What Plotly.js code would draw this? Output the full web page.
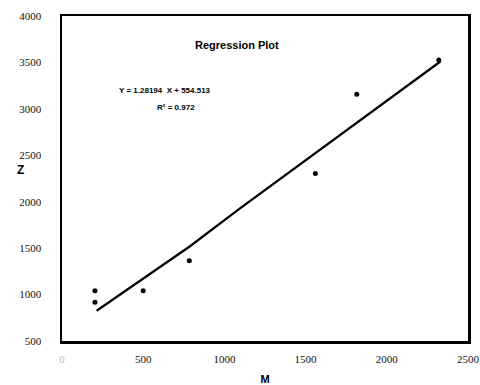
<!DOCTYPE html>
<html><head><meta charset="utf-8">
<script src="https://cdn.plot.ly/plotly-3.0.1.min.js"></script>
<style>html,body{margin:0;padding:0;background:#fff}#plot{width:480px;height:385px}</style>
</head><body><div id="plot"></div>
<script>
const pointsM = [203, 203, 500, 784, 1560, 1815, 2320];
const pointsZ = [1041, 916, 1040, 1364, 2305, 3156, 3525];
const fitM = [213, 784, 1096, 2330];
const fitZ = [826, 1515, 1928, 3510];
const xTickVals = [0, 500, 1000, 1500, 2000, 2500];
const xTickText = ['<span style="color:#bbb">0</span>', '500', '1000', '1500', '2000', '2500'];
const yTickVals = [500, 1000, 1500, 2000, 2500, 3000, 3500, 4000];
const equationText = '<b>Y = 1.28194  X + 554.513</b>';
const r2Text = '<b>R² = 0.972</b>';

const data = [
  {x: fitM, y: fitZ, mode: 'lines', type: 'scatter', line: {color: '#000', width: 2.2}, hoverinfo: 'skip'},
  {x: pointsM, y: pointsZ, mode: 'markers', type: 'scatter', marker: {color: '#000', size: 5}}
];
const layout = {
  width: 480, height: 385,
  margin: {l: 62, r: 12, t: 16, b: 44},
  paper_bgcolor: '#fff', plot_bgcolor: '#fff',
  showlegend: false,
  font: {family: 'Liberation Serif', size: 11, color: '#111'},
  xaxis: {range: [0, 2500], tickvals: xTickVals, ticktext: xTickText, showgrid: false, zeroline: false,
    showline: true, mirror: true, linecolor: '#000', linewidth: 2.5, ticks: '', ticklabelstandoff: 6,
    title: {text: '<b>M</b>', font: {family: 'Liberation Sans', size: 11, color: '#000'}, standoff: 16}},
  yaxis: {range: [500, 4000], tickvals: yTickVals, showgrid: false, zeroline: false,
    showline: true, mirror: true, linecolor: '#000', linewidth: 2.5, ticks: '', ticklabelstandoff: 16},
  annotations: [
    {xref: 'paper', yref: 'paper', x: -0.116, y: 0.526, text: '<b>Z</b>', showarrow: false,
     font: {family: 'Liberation Sans', size: 12, color: '#000'}},
    {xref: 'paper', yref: 'paper', x: 0.43, y: 0.935, text: '<b>Regression Plot</b>', showarrow: false,
     font: {family: 'Liberation Sans', size: 11, color: '#000'}},
    {xref: 'paper', yref: 'paper', x: 0.135, y: 0.79, xanchor: 'left', text: equationText, showarrow: false,
     font: {family: 'Liberation Sans', size: 8, color: '#000'}},
    {xref: 'paper', yref: 'paper', x: 0.23, y: 0.74, xanchor: 'left', text: r2Text, showarrow: false,
     font: {family: 'Liberation Sans', size: 8, color: '#000'}}
  ]
};
Plotly.newPlot('plot', data, layout, {displayModeBar: false, staticPlot: true});
</script></body></html>
